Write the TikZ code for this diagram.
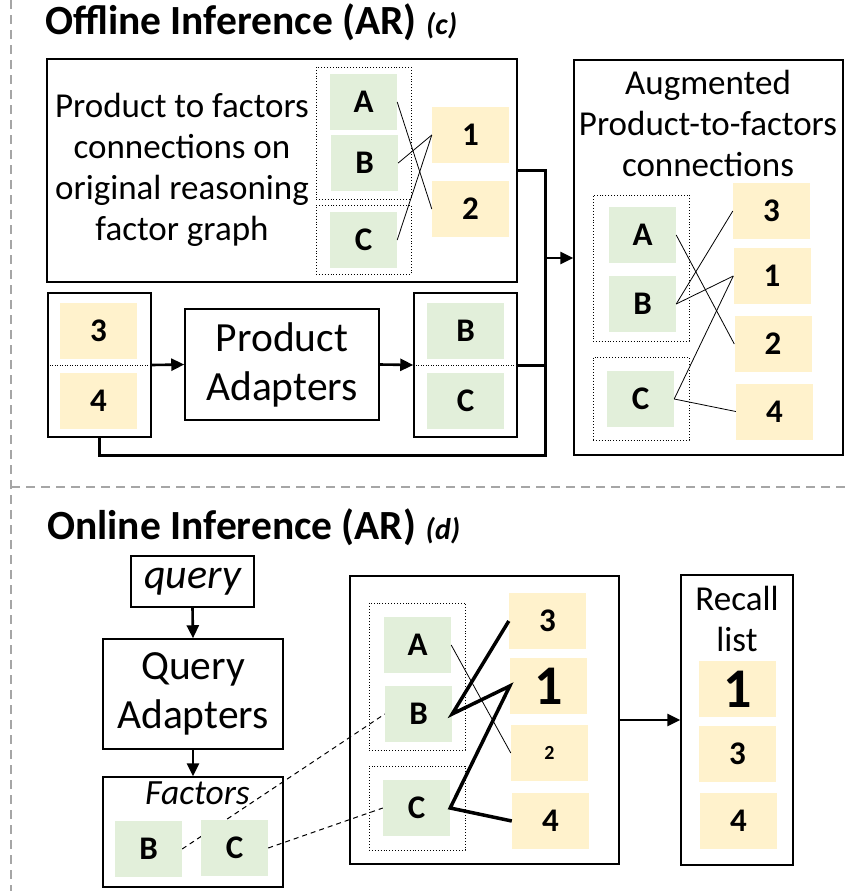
\documentclass[tikz,border=0pt]{standalone}
\usepackage{fontspec}
\setmainfont{Carlito}
\usetikzlibrary{arrows.meta,backgrounds}
\definecolor{gfill}{HTML}{E2EFDA}
\definecolor{ofill}{HTML}{FFF2CC}
\definecolor{sepgray}{HTML}{A6A6A6}
\tikzset{
 frame/.style={draw, line width=1.5pt, inner sep=0pt},
 gbox/.style={fill=gfill, inner sep=0pt, minimum width=67pt, minimum height=56pt, font=\bfseries\fontsize{33}{38}\selectfont},
 obox/.style={fill=ofill, inner sep=0pt, minimum width=77pt, minimum height=56pt, font=\bfseries\fontsize{33}{38}\selectfont},
 dotbox/.style={draw, dotted, line width=0.9pt, inner sep=0pt},
 thinln/.style={line width=0.8pt},
 thickln/.style={line width=3.5pt},
 arr/.style={line width=2.6pt, -{Triangle[length=13pt,width=12pt]}},
 conn/.style={line width=3pt},
 dashln/.style={line width=1pt, dash pattern=on 5pt off 4pt},
 txt/.style={align=center, font=\fontsize{35}{41}\selectfont, inner sep=0pt},
 bigtxt/.style={align=center, font=\fontsize{41.5}{49}\selectfont},
 sep/.style={draw=sepgray, line width=2.5pt, dash pattern=on 9pt off 6pt},
}
\begin{document}
\begin{tikzpicture}[x=1pt,y=-1pt]
\useasboundingbox (0,0) rectangle (846,891);
% separators
\coordinate (s1) at (11,0);
\coordinate (s2) at (11,891);
\coordinate (s3) at (11,487);
\coordinate (s4) at (846,487);
\draw[sep] (s1) -- (s2);
\draw[sep] (s3) -- (s4);

% titles
\node[anchor=base west, inner sep=0pt, font=\bfseries\fontsize{41.5}{48}\selectfont] (t1) at (45,35) {Offline Inference (AR) {\itshape\fontsize{30}{34}\selectfont (c)}};
\node[anchor=base west, inner sep=0pt, font=\bfseries\fontsize{41.5}{48}\selectfont] (t2) at (47,539) {Online Inference (AR) {\itshape\fontsize{30}{34}\selectfont (d)}};

% ---------- offline: top-left box
\node[frame, minimum width=470pt, minimum height=223pt] (tl) at (282,170.5) {};
\node[txt] (tlt) at (182,170) {Product to factors\\connections on\\original reasoning\\factor graph};
\node[dotbox, minimum width=95pt, minimum height=132pt] (d1) at (363.5,133) {};
\node[dotbox, minimum width=95pt, minimum height=69pt] (d2) at (363.5,239.5) {};
\node[gbox] (ta) at (363.5,102) {A};
\node[gbox] (tb) at (364.5,163) {B};
\node[gbox] (tc) at (363.5,240) {C};
\node[obox] (t1o) at (470.5,135) {1};
\node[obox] (t2o) at (470.5,209) {2};
\draw[thinln] (ta.east) -- (t2o.west);
\draw[thinln] (tb.east) -- (t1o.west);
\draw[thinln] (tc.east) -- (t1o.west);

% ---------- offline: right box
\node[frame, minimum width=269pt, minimum height=395pt] (rf) at (708.5,257.5) {};
\node[txt] (rft) at (708,123) {Augmented\\Product-to-factors\\connections};
\node[dotbox, minimum width=96pt, minimum height=146pt] (rd1) at (641,268) {};
\node[dotbox, minimum width=96pt, minimum height=83pt] (rd2) at (641,398.5) {};
\node[gbox] (ra) at (642.5,235) {A};
\node[gbox] (rb) at (642.5,304) {B};
\node[gbox] (rc) at (640.5,399) {C};
\node[obox] (r3) at (771.5,211) {3};
\node[obox] (r1) at (772,276) {1};
\node[obox] (r2) at (773,344) {2};
\node[obox] (r4) at (774.5,411.5) {4};
\draw[thinln] (ra.east) -- (r2.west);
\draw[thinln] (rb.east) -- (r3.west);
\draw[thinln] (rb.east) -- (r1.west);
\draw[thinln] (rc.east) -- (r1.west);
\draw[thinln] (rc.east) -- (r4.west);

% ---------- offline: middle row
\node[frame, minimum width=103pt, minimum height=144pt] (b34) at (99.5,365) {};
\node[obox] (b3) at (98.5,331) {3};
\node[obox] (b4) at (98.5,401) {4};
\draw[dotted, line width=0.5pt] (b34.west) -- (b34.east);
\node[frame, bigtxt, minimum width=194pt, minimum height=111pt] (pa) at (282,364.5) {Product\\Adapters};
\node[frame, minimum width=103pt, minimum height=144pt] (bc) at (465.5,365) {};
\node[gbox, minimum width=77pt] (bcb) at (465.5,331) {B};
\node[gbox, minimum width=77pt] (bcc) at (465.5,401) {C};
\draw[dotted, line width=0.5pt] (bc.west) -- (bc.east);
\draw[arr] (b34.east) -- (pa.west);
\draw[arr] (pa.east) -- (bc.west);

\coordinate (j) at (545,258);
\coordinate (jb) at (545,455);
\draw[conn] (tl.east) -| (j);
\draw[conn] (bc.east) -| (j);
\draw[conn] (b34.south) |- (jb) -- (j);
\draw[arr] (j) -- (j -| rf.west);

% ---------- online
\node[frame, minimum width=123pt, minimum height=51pt, font=\itshape\fontsize{42}{46}\selectfont] (q) at (192.5,581.5) {query};
\node[frame, bigtxt, minimum width=180pt, minimum height=110pt] (qa) at (193,694) {Query\\Adapters};
\node[frame, minimum width=180pt, minimum height=110pt] (fa) at (193,832) {};
\node[anchor=base, inner sep=0pt, font=\itshape\fontsize{35.5}{40}\selectfont] (fat) at (197.5,804) {Factors};
\node[gbox] (fb) at (148.5,849) {B};
\node[gbox] (fc) at (234.5,848) {C};
\draw[arr] (q.south) -- (qa.north);
\draw[arr] (qa.south) -- (fa.north);

\node[frame, minimum width=269pt, minimum height=288pt] (m) at (484.5,720) {};
\node[dotbox, minimum width=96pt, minimum height=147pt] (md1) at (417,676.5) {};
\node[dotbox, minimum width=96pt, minimum height=84pt] (md2) at (417,808) {};
\node[gbox] (ma) at (417.5,645) {A};
\node[gbox] (mb) at (418.5,714) {B};
\node[gbox] (mc) at (416.5,808) {C};
\node[obox] (m3) at (547.5,621) {3};
\node[obox, font=\bfseries\fontsize{56}{60}\selectfont] (m1) at (548.5,686) {1};
\node[obox, font=\bfseries\fontsize{20}{24}\selectfont] (m2) at (549.5,753) {2};
\node[obox] (m4) at (550.5,821) {4};
\draw[thinln] (ma.east) -- (m2.west);
\draw[thickln] (m3.west) -- (mb.east) -- (m1.west) -- (mc.east) -- (m4.west);

\begin{scope}[on background layer]
\draw[dashln] (fb.east) -- (mb.west);
\draw[dashln] (fc.east) -- (mc.west);
\end{scope}

\node[frame, minimum width=112pt, minimum height=290pt] (rl) at (737,720) {};
\node[txt] (rlt) at (737,619) {Recall\\list};
\node[obox] (rl1) at (737.5,689) {};
\node[font=\bfseries\fontsize{56}{60}\selectfont, inner sep=0pt] (rl1t) at (rl1) {1};
\node[obox] (rl3) at (737.5,754) {3};
\node[obox] (rl4) at (738.5,821) {4};
\draw[arr] (m.east) -- (rl.west);
\end{tikzpicture}
\end{document}
